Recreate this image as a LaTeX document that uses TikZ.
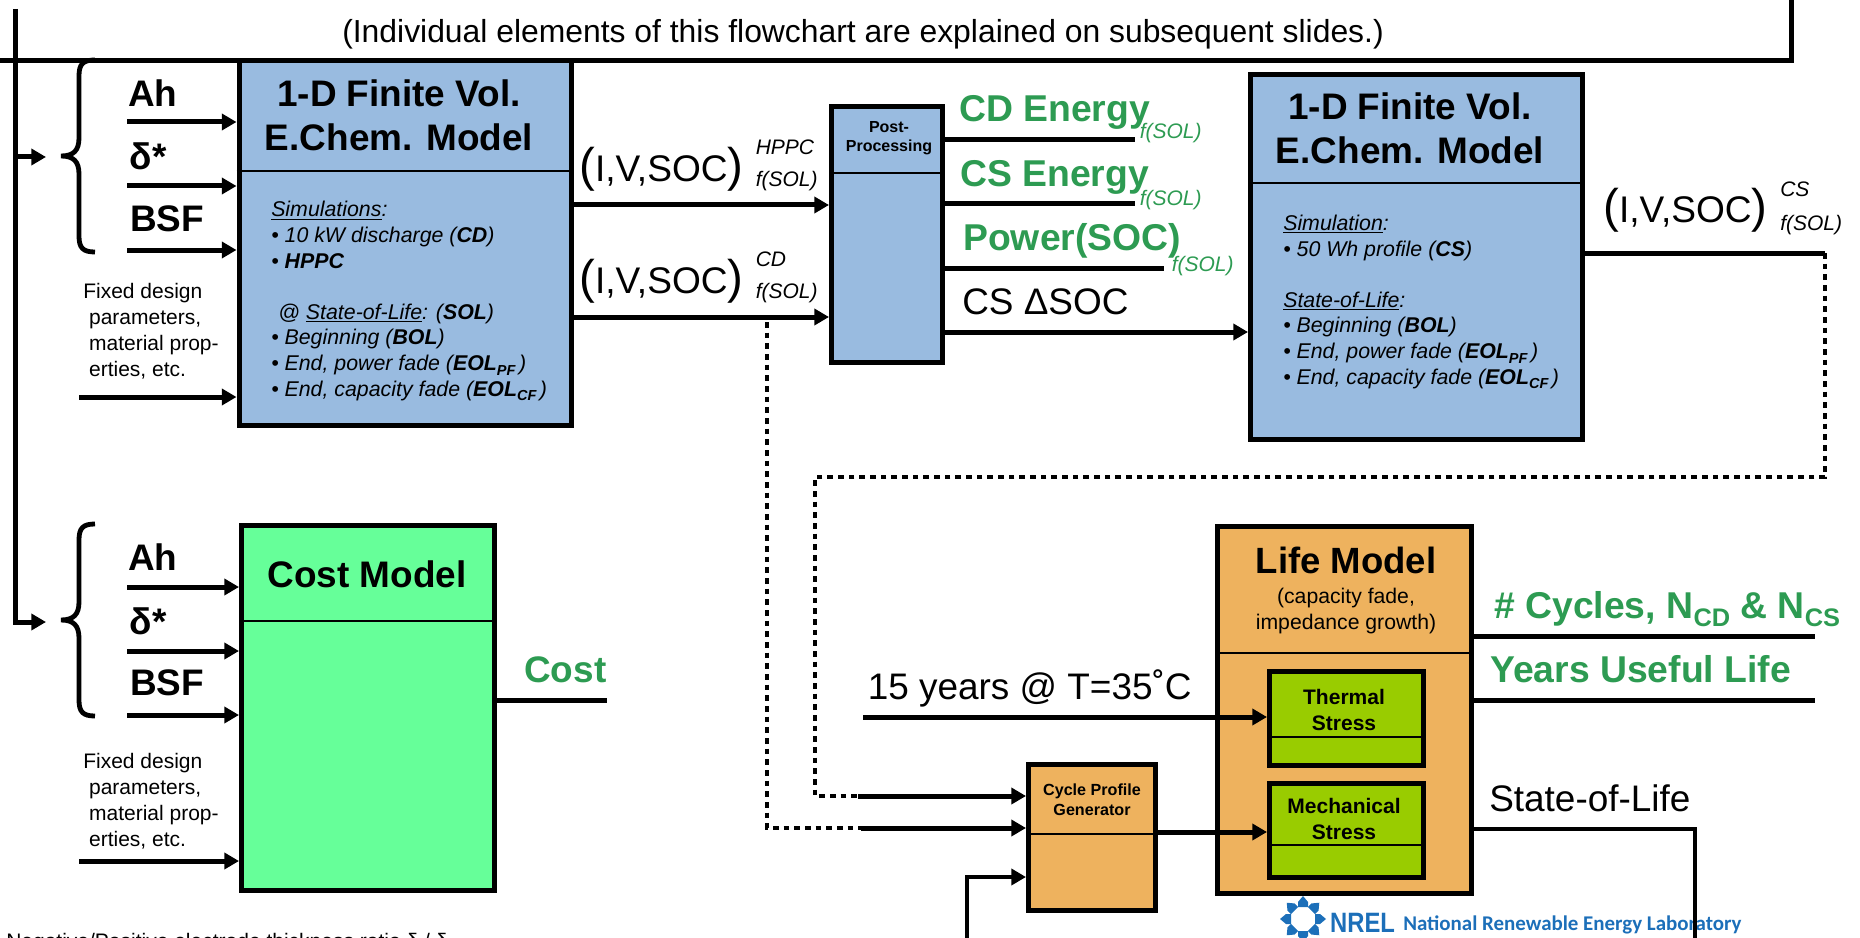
\documentclass[tikz,border=0pt]{standalone}
\usepackage{fontspec}
\setmainfont{Liberation Sans}
\newfontfamily\logofont{Carlito}
\usetikzlibrary{arrows.meta}
\definecolor{modelblue}{HTML}{99BBE0}
\definecolor{costgreen}{HTML}{66FF99}
\definecolor{lifeorange}{HTML}{EEB25E}
\definecolor{stresslime}{HTML}{99CC00}
\definecolor{outgreen}{HTML}{2D9B52}
\definecolor{nrelblue}{HTML}{1C6FB9}
\newcommand{\px}{0.75pt}
\newcommand{\lowsub}[1]{\raisebox{-.22em}{\scalebox{.68}{#1}}}
\newcommand{\ivsoc}{{\fontsize{35.5}{35.5}\selectfont(}I,V,SOC{\fontsize{35.5}{35.5}\selectfont)}}
\begin{document}
\begin{tikzpicture}[x=0.75pt,y=-0.75pt,
  block/.style={draw,line width=3.75pt,inner sep=0pt},
  divline/.style={line width=1.9pt},
  lin/.style={line width=3.75pt},
  arr/.style={line width=3.75pt,-{Triangle[length=11pt,width=12pt]}},
  dotline/.style={line width=3.7pt,dash pattern=on 4.2pt off 3.8pt},
  brc/.style={line width=3.6pt},
  lbl/.style={anchor=base west,inner sep=0pt},
  headlbl/.style={anchor=base,inner sep=0pt,align=center,font=\fontsize{27.7}{33}\selectfont\bfseries},
  symlbl/.style={lbl,font=\fontsize{27.7}{33}\selectfont\bfseries},
  biglbl/.style={lbl,font=\fontsize{27.7}{33}\selectfont},
  outlbl/.style={lbl,text=outgreen,font=\fontsize{28}{33}\selectfont\bfseries},
  bodylbl/.style={lbl,align=left,font=\fontsize{16}{19.2}\selectfont\itshape},
  notelbl/.style={lbl,align=left,font=\fontsize{15.75}{19.5}\selectfont},
  taglbl/.style={lbl,font=\fontsize{15.75}{19}\selectfont\itshape},
  innerlbl/.style={anchor=base,inner sep=0pt,align=center,font=\fontsize{15.75}{19.5}\selectfont\bfseries}]
  \path[use as bounding box,clip] (0,0) rectangle (1860,938);
  % caption and frame
  \node[lbl,font=\fontsize{23.9}{28}\selectfont] (caption) at (342,42.5){(Individual elements of this flowchart are explained on subsequent slides.)};
  \coordinate (frameL) at (0,61);
  \coordinate (frameR) at (1791,0);
  \coordinate (busTop) at (15,9);
  \draw[lin] (frameL) -| (frameR);
  % blocks
  \node[block,fill=modelblue,minimum width=332.5*\px,minimum height=365*\px] (modelA) at (405.25,243){};
  \node[block,fill=modelblue,minimum width=111*\px,minimum height=256*\px] (post) at (887,234.5){};
  \node[block,fill=modelblue,minimum width=332*\px,minimum height=365*\px] (modelB) at (1416.5,257){};
  \node[block,fill=costgreen,minimum width=253*\px,minimum height=365*\px] (cost) at (368,708){};
  \node[block,fill=lifeorange,minimum width=253.5*\px,minimum height=367*\px] (life) at (1344.25,710){};
  \node[block,fill=lifeorange,minimum width=127*\px,minimum height=146*\px] (cycle) at (1092,837.5){};
  \node[block,fill=stresslime,minimum width=154*\px,minimum height=94*\px] (thermal) at (1346.5,718.5){};
  \node[block,fill=stresslime,minimum width=154*\px,minimum height=94*\px] (mech) at (1346.5,830.5){};
  \draw[divline] (modelA.west |- 0,171) -- (modelA.east |- 0,171);
  \draw[divline] (post.west |- 0,173) -- (post.east |- 0,173);
  \draw[divline] (modelB.west |- 0,183) -- (modelB.east |- 0,183);
  \draw[divline] (cost.west |- 0,621) -- (cost.east |- 0,621);
  \draw[divline] (life.west |- 0,653) -- (life.east |- 0,653);
  \draw[divline] (cycle.west |- 0,834) -- (cycle.east |- 0,834);
  \draw[divline] (thermal.west |- 0,737) -- (thermal.east |- 0,737);
  \draw[divline] (mech.west |- 0,845) -- (mech.east |- 0,845);
  % block texts
  \node[headlbl] (titleA) at (399,151){1-D Finite Vol.\\E.Chem. Model};
  \node[bodylbl] (simA) at (271,396){\underline{Simulations}:\\• 10 kW discharge (\textbf{CD})\\• \textbf{HPPC}\\\mbox{}\\\,\,@ \underline{State-of-Life}: (\textbf{SOL})\\• Beginning (\textbf{BOL})\\• End, power fade (\textbf{EOL\lowsub{PF}}\,)\\• End, capacity fade (\textbf{EOL\lowsub{CF}}\,)};
  \node[innerlbl,font=\fontsize{12}{14.3}\selectfont\bfseries] (postText) at (889,151.5){Post-\\Processing};
  \node[headlbl] (titleB) at (1410,164){1-D Finite Vol.\\E.Chem. Model};
  \node[bodylbl] (simB) at (1283,384){\underline{Simulation}:\\• 50 Wh profile (\textbf{CS})\\\mbox{}\\\underline{State-of-Life}:\\• Beginning (\textbf{BOL})\\• End, power fade (\textbf{EOL\lowsub{PF}}\,)\\• End, capacity fade (\textbf{EOL\lowsub{CF}}\,)};
  \node[headlbl] (titleCost) at (367,587){Cost Model};
  \node[headlbl,font=\fontsize{27.4}{33}\selectfont\bfseries] (titleLife) at (1346,573){Life Model};
  \node[anchor=base,inner sep=0pt,align=center,font=\fontsize{15.9}{19.5}\selectfont] (lifeText) at (1346,629){(capacity fade,\\impedance growth)};
  \node[innerlbl,font=\fontsize{12.1}{15}\selectfont\bfseries] (cycleText) at (1092,815){Cycle Profile\\Generator};
  \node[innerlbl] (thermalText) at (1344,730){Thermal\\Stress};
  \node[innerlbl] (mechText) at (1344,839.5){Mechanical\\Stress};
  % first input group
  \coordinate (braceA) at (46,157);
  \draw[arr] (busTop |- braceA) -- (braceA);
  \draw[brc] (95,60) .. controls (83,60) and (79,64) .. (79,76) -- (79,138) .. controls (79,150) and (74,156) .. (61,156) .. controls (74,156) and (79,162) .. (79,174) -- (79,236) .. controls (79,248) and (83,252) .. (95,252);
  \node[symlbl] (ahA) at (128,107){Ah};
  \node[symlbl] (deltaA) at (129.5,170){δ*};
  \node[symlbl] (bsfA) at (130,232){BSF};
  \node[notelbl] (fixedA) at (83,376.5){Fixed design\\\ parameters,\\\ material prop-\\\ erties, etc.};
  \coordinate (inA1) at (127,122);
  \coordinate (inA2) at (127,186);
  \coordinate (inA3) at (127,250);
  \coordinate (inA4) at (79,397);
  \draw[arr] (inA1) -- (inA1 -| modelA.west);
  \draw[arr] (inA2) -- (inA2 -| modelA.west);
  \draw[arr] (inA3) -- (inA3 -| modelA.west);
  \draw[arr] (inA4) -- (inA4 -| modelA.west);
  % second input group
  \coordinate (braceB) at (46,622);
  \draw[arr] (busTop) |- (braceB);
  \draw[brc,shift={(0,464)}] (95,60) .. controls (83,60) and (79,64) .. (79,76) -- (79,138) .. controls (79,150) and (74,156) .. (61,156) .. controls (74,156) and (79,162) .. (79,174) -- (79,236) .. controls (79,248) and (83,252) .. (95,252);
  \node[symlbl] (ahB) at (128,570){Ah};
  \node[symlbl] (deltaB) at (129.5,634){δ*};
  \node[symlbl] (bsfB) at (130,695){BSF};
  \node[notelbl] (fixedB) at (83,846.5){Fixed design\\\ parameters,\\\ material prop-\\\ erties, etc.};
  \coordinate (inB1) at (127,587);
  \coordinate (inB2) at (127,651);
  \coordinate (inB3) at (127,715);
  \coordinate (inB4) at (79,861);
  \draw[arr] (inB1) -- (inB1 -| cost.west);
  \draw[arr] (inB2) -- (inB2 -| cost.west);
  \draw[arr] (inB3) -- (inB3 -| cost.west);
  \draw[arr] (inB4) -- (inB4 -| cost.west);
  % cost output
  \coordinate (costEnd) at (607,700);
  \draw[lin] (cost.east |- costEnd) -- (costEnd);
  \node[symlbl,text=outgreen] (costText) at (524,682){Cost};
  \node[notelbl] (ratio) at (6,948){Negative/Positive electrode thickness ratio δ / δ};
  % model to post-processing
  \draw[arr] (modelA.east |- 0,205) -- (post.west |- 0,205);
  \draw[arr] (modelA.east |- 0,317) -- (post.west |- 0,317);
  \node[lbl,font=\fontsize{27.8}{33}\selectfont] (ivHppc) at (579,182){\ivsoc};
  \node[taglbl] (hppcTag) at (755.5,155){HPPC};
  \node[taglbl] (hppcF) at (755.5,187){f(SOL)};
  \node[lbl,font=\fontsize{27.8}{33}\selectfont] (ivCd) at (579,293){\ivsoc};
  \node[taglbl] (cdTag) at (755.5,267){CD};
  \node[taglbl] (cdF) at (755.5,298){f(SOL)};
  % post-processing outputs
  \coordinate (cdEnd) at (1135,140);
  \coordinate (csEnd) at (1135,204);
  \coordinate (powEnd) at (1164,268);
  \draw[lin] (post.east |- cdEnd) -- (cdEnd);
  \draw[lin] (post.east |- csEnd) -- (csEnd);
  \draw[lin] (post.east |- powEnd) -- (powEnd);
  \draw[arr] (post.east |- 0,332) -- (modelB.west |- 0,332);
  \node[outlbl] (cdText) at (959,122){CD Energy};
  \node[taglbl,text=outgreen] (cdSub) at (1139.5,139){f(SOL)};
  \node[outlbl] (csText) at (960,186){CS Energy};
  \node[taglbl,text=outgreen] (csSub) at (1139.5,205){f(SOL)};
  \node[outlbl] (powText) at (963,250){Power(SOC)};
  \node[taglbl,text=outgreen] (powSub) at (1171.5,271){f(SOL)};
  \node[biglbl] (socText) at (962,314){CS ΔSOC};
  % charge sustaining output
  \node[lbl,font=\fontsize{27.8}{33}\selectfont] (ivCs) at (1603,223){\ivsoc};
  \node[taglbl] (csTag) at (1780,197){CS};
  \node[taglbl] (csF) at (1780,230){f(SOL)};
  \coordinate (csCorner) at (1825,253);
  \coordinate (dotCorner) at (1825,477);
  \coordinate (dotLeft) at (815,477);
  \coordinate (cycleIn1) at (858,796);
  \coordinate (cycleDot1) at (815,796);
  \coordinate (cycleIn2) at (861,828);
  \coordinate (cycleDot2) at (767,828);
  \coordinate (cdTap) at (767,322);
  \draw[lin] (modelB.east |- csCorner) -- (csCorner);
  \draw[dotline] (csCorner) -- (dotCorner) -- (dotLeft) -- (cycleDot1) -- (cycleIn1);
  \draw[dotline] (cdTap) -- (cycleDot2) -- (cycleIn2);
  \draw[arr] (cycleIn1) -- (cycleIn1 -| cycle.west);
  \draw[arr] (cycleIn2) -- (cycleIn2 -| cycle.west);
  % life model connectors
  \coordinate (tempIn) at (863,717);
  \node[biglbl] (tempText) at (867.5,699){15 years @ T=35˚C};
  \draw[arr] (tempIn) -- (tempIn -| thermal.west);
  \draw[arr] (cycle.east |- 0,832) -- (mech.west |- 0,832);
  \coordinate (solIn) at (967,938);
  \coordinate (solTip) at (1022,877);
  \draw[line width=3pt,-{Triangle[length=11pt,width=12pt]}] (solIn) |- (solTip -| cycle.west);
  \coordinate (nEnd) at (1815,636);
  \coordinate (yearsEnd) at (1815,700);
  \draw[lin] (life.east |- nEnd) -- (nEnd);
  \draw[lin] (life.east |- yearsEnd) -- (yearsEnd);
  \node[outlbl] (cyclesText) at (1494,618){\# Cycles, N\lowsub{CD} \& N\lowsub{CS}};
  \node[outlbl] (yearsText) at (1490,682){Years Useful Life};
  \node[biglbl] (solText) at (1489,811){State-of-Life};
  % logo
  \foreach \a in {0,45,...,315}{
    \fill[nrelblue,shift={(1303,919)},rotate=\a] (12,-5) -- (17,-5) -- (23,0) -- (17,5) -- (12,5) -- cycle;
  }
  \node[lbl,text=nrelblue,font=\fontsize{21}{21}\selectfont\bfseries,xscale=.85] (nrelMark) at (1330,932){NREL};
  \node[lbl,text=nrelblue,font=\logofont\fontsize{15.7}{15.7}\selectfont\bfseries] (nrelName) at (1403,930.5){National Renewable Energy Laboratory};
  % state of life feedback
  \coordinate (solDown) at (1695,938);
  \draw[line width=3pt] (life.east |- 0,829) -| (solDown);
\end{tikzpicture}
\end{document}
